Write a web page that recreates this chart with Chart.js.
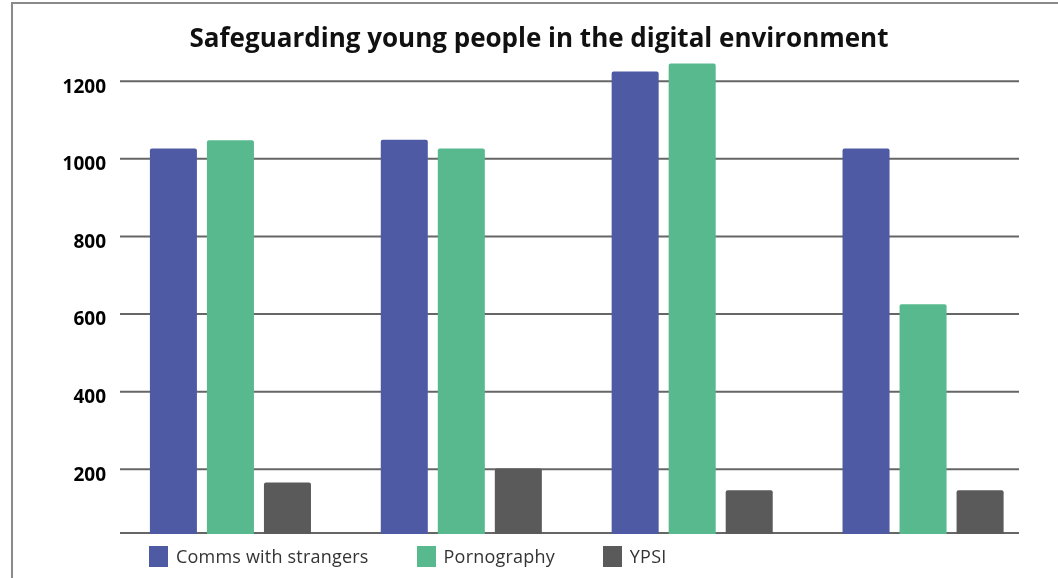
<!DOCTYPE html>
<html>
<head>
<meta charset="utf-8">
<script src="https://cdn.jsdelivr.net/npm/chart.js@4/dist/chart.umd.min.js"></script>
<style>
  html, body { margin: 0; padding: 0; background: #fff; overflow: hidden; }
  #wrap { position: relative; width: 1058px; height: 578px; }
  #c { position: absolute; left: 0; top: 0; }
  #frame { position: absolute; left: 11px; top: 2px; width: 1200px; height: 700px;
           border-left: 2px solid #8a8a8a; border-top: 2px solid #8a8a8a; pointer-events: none; }
  #legend { position: absolute; left: 149px; top: 546px; display: flex; align-items: center;
            gap: 48px; font-family: "Open Sans", sans-serif; font-size: 18px; letter-spacing: 0.2px;
            color: #333; line-height: 21px; }
  .item { display: flex; align-items: center; }
  .box { width: 19px; height: 21px; margin-right: 8px; }
</style>
</head>
<body>
<div id="wrap">
  <canvas id="c" width="1058" height="578"></canvas>
  <div id="frame"></div>
  <div id="legend"></div>
</div>
<script>
const titleText = 'Safeguarding young people in the digital environment';
const categories = ['Group 1', 'Group 2', 'Group 3', 'Group 4'];
const seriesNames = ['Comms with strangers', 'Pornography', 'YPSI'];
const seriesColors = ['#4F5AA5', '#58B98F', '#5A5A5A'];
const commsValues = [1027, 1049, 1225, 1027];
const pornValues = [1048, 1027, 1246, 625];
const ypsiValues = [166, 202, 146, 146];
const tickValues = [200, 400, 600, 800, 1000, 1200];
const yMin = 33;
const yMax = 1260;

const seriesValues = [commsValues, pornValues, ypsiValues];

const gridPlugin = {
  id: 'customGrid',
  beforeDatasetsDraw(chart) {
    const { ctx, chartArea } = chart;
    const y = chart.scales.y;
    const x0 = chartArea.left + 5;
    const x1 = chartArea.right - 19.5;
    ctx.save();
    ctx.strokeStyle = '#666666';
    ctx.lineWidth = 2;
    const lines = tickValues.map(v => y.getPixelForValue(v)).concat([y.getPixelForValue(yMin) - 1]);
    lines.forEach(py => {
      ctx.beginPath();
      ctx.moveTo(x0, py);
      ctx.lineTo(x1, py);
      ctx.stroke();
    });
    ctx.restore();
  }
};

new Chart(document.getElementById('c'), {
  type: 'bar',
  data: {
    labels: categories,
    datasets: seriesNames.map((name, i) => ({
      label: name,
      data: seriesValues[i],
      backgroundColor: seriesColors[i],
      borderWidth: 0,
      borderRadius: 2,
      borderSkipped: 'bottom',
      categoryPercentage: 0.741,
      barPercentage: 0.8246
    }))
  },
  options: {
    responsive: false,
    animation: false,
    devicePixelRatio: 1,
    layout: { padding: { left: 39.5, right: 19.5, top: 0, bottom: 44 } },
    plugins: {
      legend: { display: false },
      tooltip: { enabled: false },
      title: {
        display: true,
        text: titleText,
        color: '#111',
        font: { family: '"Open Sans", sans-serif', size: 26, weight: 'bold', lineHeight: 1.2 },
        padding: { top: 24, bottom: 2.8 }
      }
    },
    scales: {
      x: { display: false },
      y: {
        min: yMin,
        max: yMax,
        grid: { display: false },
        border: { display: false },
        afterBuildTicks(scale) { scale.ticks = tickValues.map(v => ({ value: v })); },
        afterFit(scale) { scale.width = 75.5; },
        ticks: {
          color: '#000',
          padding: 1,
          labelOffset: 6,
          font: { family: '"Open Sans", sans-serif', size: 19, weight: 'bold' },
          callback: (v) => String(v)
        }
      }
    }
  },
  plugins: [gridPlugin]
});

const legend = document.getElementById('legend');
seriesNames.forEach((name, i) => {
  const item = document.createElement('div');
  item.className = 'item';
  const box = document.createElement('span');
  box.className = 'box';
  box.style.background = seriesColors[i];
  const txt = document.createElement('span');
  txt.textContent = name;
  item.appendChild(box);
  item.appendChild(txt);
  legend.appendChild(item);
});
</script>
</body>
</html>
